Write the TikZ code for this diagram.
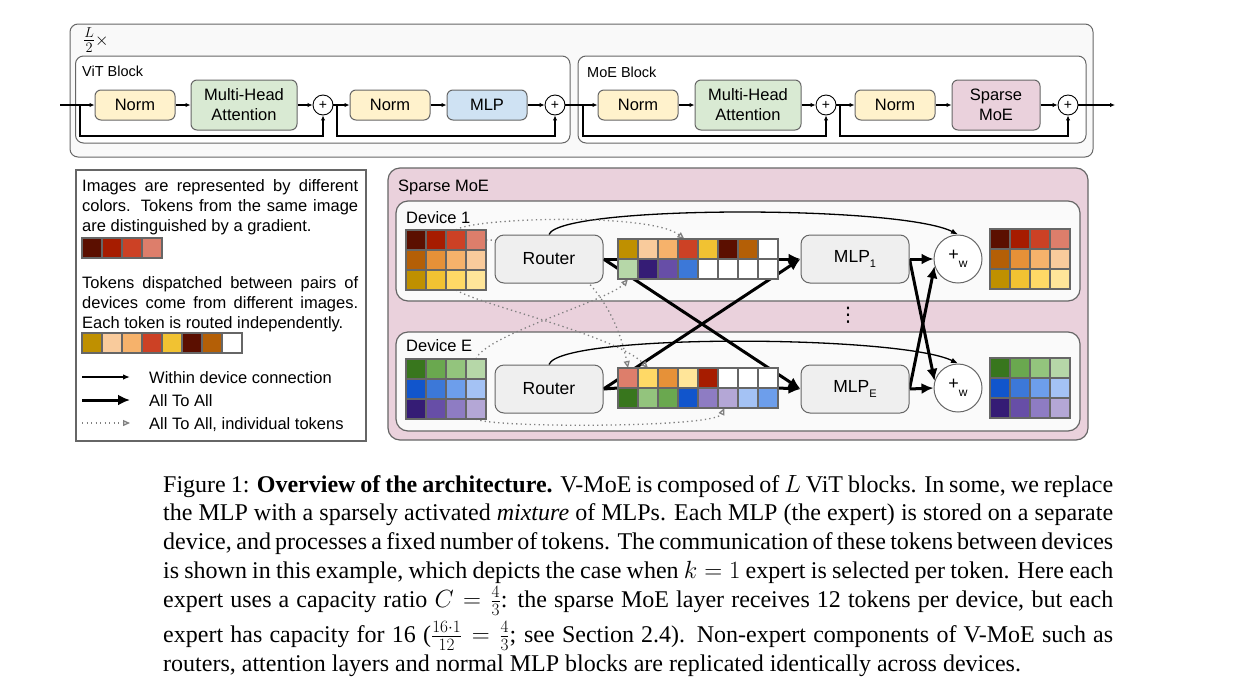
\documentclass[tikz,border=0pt]{standalone}
\usepackage{fontspec}
\setmainfont{Liberation Sans}
\newfontfamily\capfont{Liberation Serif}
\newfontfamily\dejavu{DejaVu Sans}
\usetikzlibrary{arrows.meta,calc}
\definecolor{g66}{HTML}{666666}
\definecolor{g77}{HTML}{808080}
\definecolor{normc}{HTML}{FFF2CC}
\definecolor{mhac}{HTML}{D9EAD3}
\definecolor{mlpc}{HTML}{CFE2F3}
\definecolor{moec}{HTML}{EAD1DC}
\definecolor{boxc}{HTML}{EFEFEF}
\definecolor{devc}{HTML}{FAFAFA}
\definecolor{outc}{HTML}{F9F9F9}
\definecolor{rA}{HTML}{5B0F00}\definecolor{rB}{HTML}{A61C00}\definecolor{rC}{HTML}{CC4125}\definecolor{rD}{HTML}{DD7E6B}
\definecolor{oA}{HTML}{B45F06}\definecolor{oB}{HTML}{E69138}\definecolor{oC}{HTML}{F6B26B}\definecolor{oD}{HTML}{F9CB9C}
\definecolor{yA}{HTML}{BF9000}\definecolor{yB}{HTML}{F1C232}\definecolor{yC}{HTML}{FFD966}\definecolor{yD}{HTML}{FFE599}
\definecolor{gA}{HTML}{38761D}\definecolor{gB}{HTML}{6AA84F}\definecolor{gC}{HTML}{93C47D}\definecolor{gD}{HTML}{B6D7A8}
\definecolor{bA}{HTML}{1155CC}\definecolor{bB}{HTML}{3C78D8}\definecolor{bC}{HTML}{6D9EEB}\definecolor{bD}{HTML}{A4C2F4}
\definecolor{pA}{HTML}{351C75}\definecolor{pB}{HTML}{674EA7}\definecolor{pC}{HTML}{8E7CC3}\definecolor{pD}{HTML}{B4A7D6}
\definecolor{wh}{HTML}{FFFFFF}
\pgfdeclarelayer{back}\pgfdeclarelayer{mid}\pgfsetlayers{back,mid,main}
\newcommand{\tokrow}[4]{\foreach \cc [count=\ci] in {#4} {\node[cell, fill=\cc] (#1-\ci) at ({#2+20*\ci-10},#3) {};}}
\begin{document}
\begin{tikzpicture}[x=1pt,y=-1pt,
  blk/.style={draw=g66, line width=1pt, rounded corners=6pt, align=center, inner sep=0pt, font=\fontsize{16.5}{20}\selectfont},
  gbox/.style={draw=g66, line width=1pt, rounded corners=9pt, fill=boxc, inner sep=0pt, minimum width=108pt, minimum height=48pt, font=\fontsize{17.5}{20}\selectfont},
  plus/.style={circle, draw=black, line width=0.9pt, fill=white, minimum size=20pt, inner sep=0pt, font=\fontsize{14}{14}\selectfont},
  bplus/.style={circle, draw=g66, line width=1pt, fill=white, minimum size=48pt, inner sep=0pt, font=\fontsize{18}{18}\selectfont},
  ar/.style={line width=1.2pt, -{Latex[length=5pt,width=4.5pt]}},
  cell/.style={draw=g66, line width=1.2pt, minimum width=20pt, minimum height=20pt, inner sep=0pt, outer sep=0pt},
  thk/.style={line width=3pt},
  thka/.style={line width=3pt, -{Latex[length=12pt,width=11pt]}},
  thn/.style={line width=1.3pt, -{Latex[length=7pt,width=5.5pt]}},
  dts/.style={draw=g77, line width=1.3pt, dash pattern=on 1.3pt off 3.2pt, -{Triangle[open,length=7pt,width=6pt]}},
  lbl/.style={inner sep=0pt, anchor=base west},
  legf/.style={font=\fontsize{16.5}{20}\selectfont},
  capf/.style={font=\capfont\fontsize{24}{29}\selectfont}]
\useasboundingbox (0,0) rectangle (1238,683);
% ---------- containers
\begin{pgfonlayer}{back}
\node[draw=g66, line width=1pt, rounded corners=8pt, fill=outc, minimum width=1023pt, minimum height=133pt, inner sep=0pt] (outer) at (581.5,90.5) {};
\node[draw=g66, line width=1pt, rounded corners=8pt, fill=white, minimum width=494.5pt, minimum height=87pt, inner sep=0pt] (vitb) at (322.75,99.5) {};
\node[draw=g66, line width=1pt, rounded corners=8pt, fill=white, minimum width=508pt, minimum height=87pt, inner sep=0pt] (moeb) at (832,99.5) {};
\node[draw=g66, line width=1.2pt, fill=white, minimum width=290pt, minimum height=271pt, inner sep=0pt] (legend) at (221,305.5) {};
\node[draw=g66, line width=1.2pt, rounded corners=12pt, fill=moec, minimum width=700pt, minimum height=272pt, inner sep=0pt] (smoe) at (738,304) {};
\node[draw=g66, line width=1.2pt, rounded corners=12pt, fill=devc, minimum width=684pt, minimum height=100pt, inner sep=0pt] (dev1) at (738,251) {};
\node[draw=g66, line width=1.2pt, rounded corners=12pt, fill=devc, minimum width=684pt, minimum height=99pt, inner sep=0pt] (devE) at (738,381.5) {};
\end{pgfonlayer}
% ---------- top labels
\node[inner sep=0pt, anchor=west] (lhalf) at (83,40) {{\fontsize{22}{22}\selectfont$\frac{L}{2}$}{\fontsize{17}{17}\selectfont$\times$}};
\node[lbl, font=\fontsize{14.5}{16}\selectfont] (vitl) at (82,76) {ViT Block};
\node[lbl, font=\fontsize{14.5}{16}\selectfont] (moel) at (587,77) {MoE Block};
% ---------- top blocks
\node[blk, fill=normc, minimum width=80pt, minimum height=30pt] (n1) at (135,105) {Norm};
\node[blk, fill=mhac, minimum width=106pt, minimum height=50pt] (a1) at (244,105) {Multi-Head\\Attention};
\node[plus] (p1) at (323,105) {+};
\node[blk, fill=normc, minimum width=80pt, minimum height=30pt] (n2) at (390,105) {Norm};
\node[blk, fill=mlpc, minimum width=80pt, minimum height=30pt] (m1) at (487,105) {MLP};
\node[plus] (p2) at (555,105) {+};
\node[blk, fill=normc, minimum width=80pt, minimum height=30pt] (n3) at (638,105) {Norm};
\node[blk, fill=mhac, minimum width=106pt, minimum height=50pt] (a2) at (748,105) {Multi-Head\\Attention};
\node[plus] (p3) at (826,105) {+};
\node[blk, fill=normc, minimum width=80pt, minimum height=30pt] (n4) at (895,105) {Norm};
\node[blk, fill=moec, minimum width=88pt, minimum height=50pt] (sm) at (996,105) {Sparse\\MoE};
\node[plus] (p4) at (1068,105) {+};
\coordinate (tin) at (60,105);
\coordinate (tout) at (1115,105);
\coordinate (b1) at (80,105);
\coordinate (b2) at (337,105);
\coordinate (b3) at (583,105);
\coordinate (b4) at (840,105);
\draw[ar] (tin) -- (n1);
\draw[ar] (n1) -- (a1);
\draw[ar] (a1) -- (p1);
\draw[ar] (p1) -- (n2);
\draw[ar] (n2) -- (m1);
\draw[ar] (m1) -- (p2);
\draw[ar] (p2) -- (n3);
\draw[ar] (n3) -- (a2);
\draw[ar] (a2) -- (p3);
\draw[ar] (p3) -- (n4);
\draw[ar] (n4) -- (sm);
\draw[ar] (sm) -- (p4);
\draw[ar] (p4) -- (tout);
\draw[ar] (b1) -- ++(0,31) -| (p1.south);
\draw[ar] (b2) -- ++(0,31) -| (p2.south);
\draw[ar] (b3) -- ++(0,31) -| (p3.south);
\draw[ar] (b4) -- ++(0,31) -| (p4.south);
% ---------- legend
\node[lbl, legf] (lt1) at (82,191) {\makebox[276pt][s]{Images are represented by different}};
\node[lbl, legf] (lt2) at (82,211) {\makebox[276pt][s]{colors. Tokens from the same image}};
\node[lbl, legf] (lt3) at (82,231) {are distinguished by a gradient.};
\tokrow{s1}{82}{248}{rA,rB,rC,rD}
\node[lbl, legf] (lt4) at (82,288) {\makebox[276pt][s]{Tokens dispatched between pairs of}};
\node[lbl, legf] (lt5) at (82,308) {\makebox[276pt][s]{devices come from different images.}};
\node[lbl, legf] (lt6) at (82,328) {Each token is routed independently.};
\tokrow{s2}{82}{343}{yA,oD,oC,rC,yB,rA,oA,wh}
\coordinate (la1) at (82,377); \coordinate (la2) at (130,377);
\coordinate (lb1) at (82,400); \coordinate (lb2) at (130,400);
\coordinate (lc1) at (82,423); \coordinate (lc2) at (130,423);
\draw[thn] (la1) -- (la2);
\draw[thka] (lb1) -- (lb2);
\draw[dts] (lc1) -- (lc2);
\node[lbl, legf] (ll1) at (149,383) {Within device connection};
\node[lbl, legf] (ll2) at (149,406) {All To All};
\node[lbl, legf] (ll3) at (149,429) {All To All, individual tokens};
% ---------- sparse MoE
\node[lbl, legf] (sml) at (398,191) {Sparse MoE};
\node[lbl, legf] (d1l) at (406,223) {Device 1};
\node[lbl, legf] (dEl) at (406,351) {Device E};
\node[inner sep=0pt, font=\dejavu\fontsize{20}{20}\selectfont] (vd) at (848,315) {⋮};
% device 1
\tokrow{g1-1}{406}{240}{rA,rB,rC,rD}
\tokrow{g1-2}{406}{260}{oA,oB,oC,oD}
\tokrow{g1-3}{406}{280}{yA,yB,yC,yD}
\node[gbox] (r1) at (549,259) {Router};
\tokrow{d1-1}{618}{249}{yA,oD,oC,rC,yB,rA,oA,wh}
\tokrow{d1-2}{618}{269}{gD,pA,pB,bB,wh,wh,wh,wh}
\node[gbox] (e1) at (855,259) {MLP\raisebox{-5pt}{\fontsize{11}{11}\selectfont 1}};
\node[bplus] (q1) at (958,259) {+\raisebox{-7pt}{\fontsize{12}{12}\selectfont w}};
\tokrow{o1-1}{990}{239}{rA,rB,rC,rD}
\tokrow{o1-2}{990}{259}{oA,oB,oC,oD}
\tokrow{o1-3}{990}{279}{yA,yB,yC,yD}
% device E
\tokrow{gE-1}{406}{369}{gA,gB,gC,gD}
\tokrow{gE-2}{406}{389}{bA,bB,bC,bD}
\tokrow{gE-3}{406}{409}{pA,pB,pC,pD}
\node[gbox] (rE) at (549,389) {Router};
\tokrow{dE-1}{618}{378}{rD,yC,oB,yD,rB,wh,wh,wh}
\tokrow{dE-2}{618}{398}{gA,gC,gB,bA,pC,pD,bD,bC}
\node[gbox] (eE) at (855,389) {MLP\raisebox{-5pt}{\fontsize{11}{11}\selectfont E}};
\node[bplus] (qE) at (958,388) {+\raisebox{-7pt}{\fontsize{12}{12}\selectfont w}};
\tokrow{oE-1}{990}{368}{gA,gB,gC,gD}
\tokrow{oE-2}{990}{388}{bA,bB,bC,bD}
\tokrow{oE-3}{990}{408}{pA,pB,pC,pD}
% connectors
\begin{pgfonlayer}{mid}
\draw[thk] (r1.east) -- (d1-1-1.south west);
\draw[thk] (rE.east) -- (dE-1-1.south west);
\draw[thka] (d1-1-8.south east) -- (e1.west);
\draw[thka] (dE-1-8.south east) -- (eE.west);
\draw[thka] (r1.east) -- (eE.west);
\draw[thka] (rE.east) -- (e1.west);
\draw[thka] (e1.east) -- (q1.west);
\draw[thka] (eE.east) -- (qE.west);
\draw[thka] (e1.east) -- (qE.163);
\draw[thka] (eE.east) -- (q1.197);
\draw[thn] (r1.north) .. controls (560,205) and (900,205) .. (q1.north);
\draw[thn] (rE.north) .. controls (560,333) and (900,335) .. (qE.north);
\draw[dts] (g1-1-3.north) .. controls (470,218) and (650,212) .. (d1-1-4.110);
\draw[dts] (g1-1-4.east) .. controls (570,240) and (615,300) .. (dE-1-1.north);
\draw[dts] (g1-3-3.south) .. controls (480,305) and (615,335) .. (dE-1-2.north);
\draw[dts] (gE-1-4.north) .. controls (485,335) and (610,300) .. (d1-2-1.south);
\draw[dts] (gE-3-4.south) .. controls (490,428) and (715,428) .. (dE-2-6.250);
\end{pgfonlayer}
% ---------- caption
\node[lbl, capf] (c1) at (163,492) {\makebox[950pt][s]{Figure 1: \textbf{Overview of the architecture.} V-MoE is composed of $L$ ViT blocks. In some, we replace}};
\node[lbl, capf] (c2) at (163,520) {\makebox[950pt][s]{the MLP with a sparsely activated \emph{mixture} of MLPs. Each MLP (the expert) is stored on a separate}};
\node[lbl, capf] (c3) at (163,549) {\makebox[950pt][s]{device, and processes a fixed number of tokens. The communication of these tokens between devices}};
\node[lbl, capf] (c4) at (163,578) {\makebox[950pt][s]{is shown in this example, which depicts the case when $k = 1$ expert is selected per token. Here each}};
\node[lbl, capf] (c5) at (163,607) {\makebox[950pt][s]{expert uses a capacity ratio $C = \frac{4}{3}$: the sparse MoE layer receives 12 tokens per device, but each}};
\node[lbl, capf] (c6) at (163,642) {\makebox[950pt][s]{expert has capacity for 16 ($\frac{16\cdot 1}{12} = \frac{4}{3}$; see Section 2.4). Non-expert components of V-MoE such as}};
\node[lbl, capf] (c7) at (163,671) {routers, attention layers and normal MLP blocks are replicated identically across devices.};
\end{tikzpicture}
\end{document}
